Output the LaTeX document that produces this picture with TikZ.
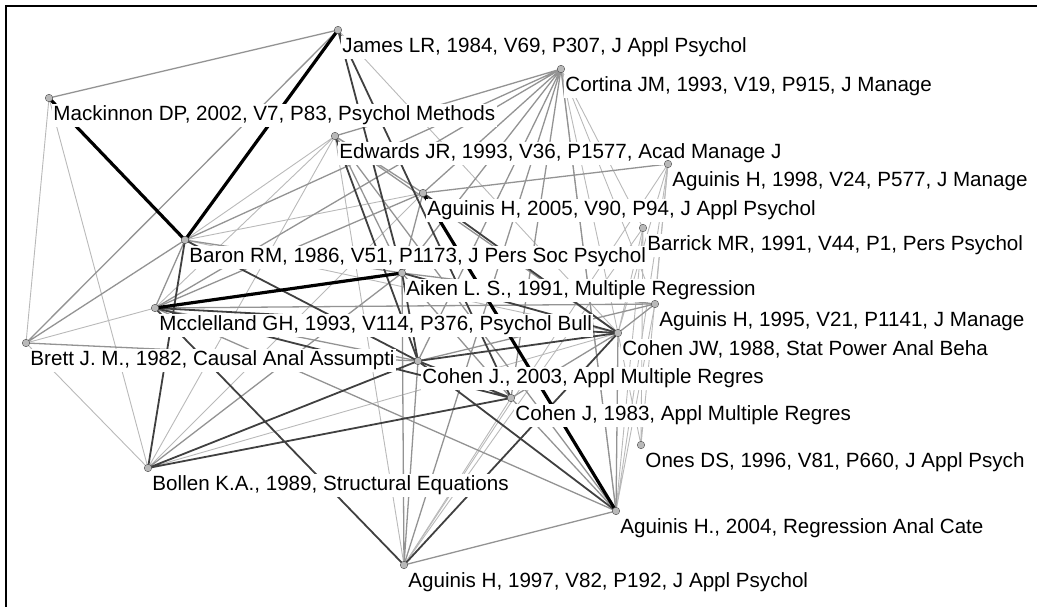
\documentclass[tikz,border=0pt]{standalone}
\usepackage{fontspec}
\setmainfont{Liberation Sans}

\begin{document}
\begin{tikzpicture}[x=1pt,y=-1pt,
    paper/.style={fill=gray!55,draw=black!70,thin,inner sep=0pt,minimum size=7.5pt,%
      shape=circle,label distance=1pt},
    every label/.style={fill=white,inner sep=1.5pt,yshift=-3.5pt,%
      font=\fontsize{20.6}{24}\selectfont},
    lw/.style={gray!55,line width=0.9pt},
    md/.style={gray!85,line width=1.3pt},
    dk/.style={black!75,line width=1.8pt},
    bk/.style={black,line width=3.2pt}]
      \useasboundingbox (0,0) rectangle (1037,607) ;
      \draw[line width=2.5pt] (6,607) -- (6,6) -- (1037,6) ;
      % citation positions
      \coordinate (james) at (338,30) ;
      \coordinate (mack) at (49,98) ;
      \coordinate (cortina) at (561,69) ;
      \coordinate (edwards) at (335,136) ;
      \coordinate (ag98) at (668,164) ;
      \coordinate (ag05) at (423,193) ;
      \coordinate (barrick) at (643,228) ;
      \coordinate (baron) at (185,240) ;
      \coordinate (aiken) at (402,273) ;
      \coordinate (ag95) at (655,304) ;
      \coordinate (mccl) at (155,308) ;
      \coordinate (cohenjw) at (618,333) ;
      \coordinate (brett) at (26,343) ;
      \coordinate (cohen03) at (418,361) ;
      \coordinate (cohen83) at (511,398) ;
      \coordinate (ones) at (641,445) ;
      \coordinate (bollen) at (148,468) ;
      \coordinate (ag04) at (616,511) ;
      \coordinate (ag97) at (404,565) ;
      % co-citation links
      \draw[lw] (mack) -- (brett) (mack) -- (bollen) (brett) -- (mccl) (brett) -- (bollen) ;
      \draw[lw] (bollen) -- (edwards) (bollen) -- (ag05) (bollen) -- (cohenjw) ;
      \draw[lw] (baron) -- (ag05) (baron) -- (edwards) (mccl) -- (edwards) ;
      \draw[lw] (ag97) -- (cohen83) (ag04) -- (ag95) (ag04) -- (cortina) (ag04) -- (ag98) ;
      \draw[lw] (ag04) -- (barrick) (ones) -- (barrick) (ones) -- (ag98) (ones) -- (cohenjw) ;
      \draw[lw] (james) -- (cohenjw) (cortina) -- (cohenjw) (cortina) -- (ag95) (ag98) -- (ag97) ;
      \draw[lw] (ag98) -- (cohenjw) (ag98) -- (ag95) (barrick) -- (cohenjw) (barrick) -- (ag97) ;
      \draw[lw] (edwards) -- (ag97) (cortina) -- (barrick) (baron) -- (cohenjw) ;
      \draw[md] (mack) -- (james) (brett) -- (james) (brett) -- (baron) (brett) -- (cohen03) ;
      \draw[md] (bollen) -- (aiken) (mccl) -- (ag95) (mccl) -- (baron) ;
      \draw[md] (mccl) -- (ag05) (mccl) -- (ag04) (mccl) -- (cohen03) (baron) -- (aiken) ;
      \draw[md] (ag97) -- (ag04) (ag97) -- (aiken) (ag97) -- (cohen03) (ag04) -- (cohen83) ;
      \draw[md] (ag04) -- (cohenjw) (cortina) -- (edwards) (cortina) -- (baron) (cortina) -- (mccl) ;
      \draw[md] (cortina) -- (ag05) (cortina) -- (aiken) (cortina) -- (cohen03) (cortina) -- (ag97) ;
      \draw[md] (cortina) -- (cohen83) (cortina) -- (ag04) ;
      \draw[md] (edwards) -- (ag05) (edwards) -- (aiken) (edwards) -- (cohenjw) (ag98) -- (ag05) ;
      \draw[md] (ag95) -- (cohenjw) (ag95) -- (aiken) (ag95) -- (cohen03) (cohenjw) -- (cohen83) ;
      \draw[md] (aiken) -- (cohen83) (aiken) -- (ag05) (edwards) -- (ag04) ;
      \draw[dk] (bollen) -- (baron) (bollen) -- (cohen03) (bollen) -- (cohen83) (mccl) -- (ag97) ;
      \draw[dk] (mccl) -- (cohenjw) (baron) -- (cohen03) (ag97) -- (cohenjw) (ag05) -- (cohenjw) ;
      \draw[dk] (ag04) -- (cohen03) (cohenjw) -- (cohen03) (cohenjw) -- (aiken) (aiken) -- (cohen03) ;
      \draw[dk] (cohen03) -- (cohen83) (edwards) -- (cohen03) (mccl) -- (cohen83) ;
      \draw[dk] (james) -- (aiken) (james) -- (cohen83) ;
      \draw[bk] (mack) -- (baron) (james) -- (baron) (mccl) -- (aiken) (ag05) -- (ag04) ;
      % citations
      \node[paper,label={south east:{Mackinnon DP, 2002, V7, P83, Psychol Methods}}] %
      (mackDot) at (mack) {} ;
      \node[paper,label={south east:{Baron RM, 1986, V51, P1173, J Pers Soc Psychol}}] %
      (baronDot) at (baron) {} ;
      \node[paper,label={south east:{Mcclelland GH, 1993, V114, P376, Psychol Bull}}] %
      (mcclDot) at (mccl) {} ;
      \node[paper,label={south east:{Brett J. M., 1982, Causal Anal Assumpti}}] %
      (brettDot) at (brett) {} ;
      \node[paper,label={south east:{Bollen K.A., 1989, Structural Equations}}] %
      (bollenDot) at (bollen) {} ;
      \node[paper,label={south east:{James LR, 1984, V69, P307, J Appl Psychol}}] %
      (jamesDot) at (james) {} ;
      \node[paper,label={south east:{Edwards JR, 1993, V36, P1577, Acad Manage J}}] %
      (edwardsDot) at (edwards) {} ;
      \node[paper,label={south east:{Aguinis H, 2005, V90, P94, J Appl Psychol}}] %
      (ag05Dot) at (ag05) {} ;
      \node[paper,label={south east:{Aiken L. S., 1991, Multiple Regression}}] %
      (aikenDot) at (aiken) {} ;
      \node[paper,label={south east:{Cohen J., 2003, Appl Multiple Regres}}] %
      (cohen03Dot) at (cohen03) {} ;
      \node[paper,label={south east:{Cohen J, 1983, Appl Multiple Regres}}] %
      (cohen83Dot) at (cohen83) {} ;
      \node[paper,label={south east:{Aguinis H, 1997, V82, P192, J Appl Psychol}}] %
      (ag97Dot) at (ag97) {} ;
      \node[paper,label={south east:{Cortina JM, 1993, V19, P915, J Manage}}] %
      (cortinaDot) at (cortina) {} ;
      \node[paper,label={south east:{Aguinis H, 1998, V24, P577, J Manage}}] %
      (ag98Dot) at (ag98) {} ;
      \node[paper,label={south east:{Barrick MR, 1991, V44, P1, Pers Psychol}}] %
      (barrickDot) at (barrick) {} ;
      \node[paper,label={south east:{Aguinis H, 1995, V21, P1141, J Manage}}] %
      (ag95Dot) at (ag95) {} ;
      \node[paper,label={south east:{Cohen JW, 1988, Stat Power Anal Beha}}] %
      (cohenjwDot) at (cohenjw) {} ;
      \node[paper,label={south east:{Ones DS, 1996, V81, P660, J Appl Psych}}] %
      (onesDot) at (ones) {} ;
      \node[paper,label={south east:{Aguinis H., 2004, Regression Anal Cate}}] %
      (ag04Dot) at (ag04) {} ;
    \end{tikzpicture}
\end{document}
